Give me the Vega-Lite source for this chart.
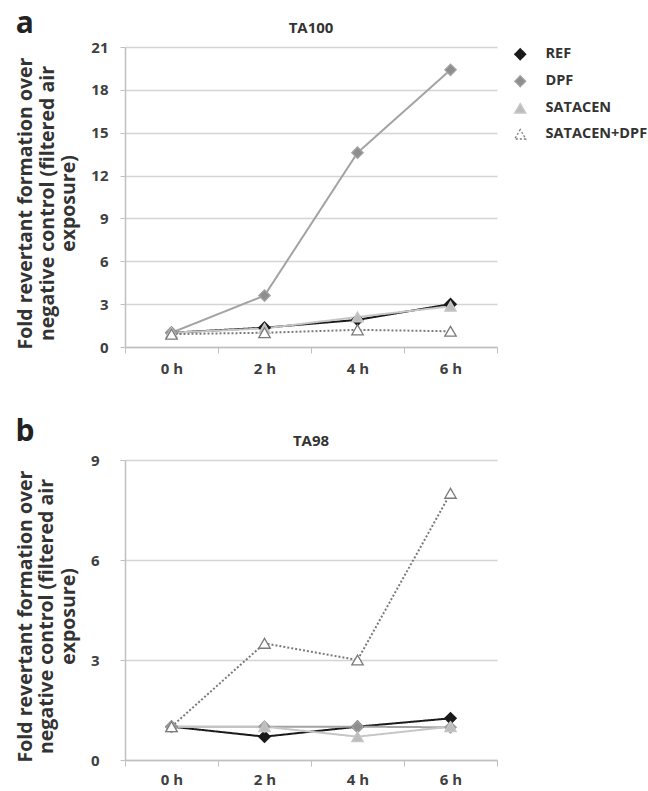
{
  "$schema": "https://vega.github.io/schema/vega-lite/v6.json",
  "background": "white",
  "padding": {"left": 15, "top": 9, "right": 5, "bottom": 0},
  "config": {
    "font": "Open Sans",
    "view": {"stroke": null},
    "axis": {"labelFont": "Open Sans", "titleFont": "Open Sans", "labelFontWeight": "bold", "labelColor": "#404040", "labelFontSize": 15, "domainColor": "#c0c0c0", "tickColor": "#c0c0c0", "gridColor": "#d4d4d4", "gridWidth": 1.5, "domainWidth": 1.5},
    "title": {"font": "Open Sans", "fontWeight": "bold", "color": "#333333"},
    "legend": {"labelFont": "Open Sans", "labelFontSize": 14.5, "labelFontWeight": "bold", "labelColor": "#333333", "rowPadding": 10, "symbolSize": 120, "symbolStrokeWidth": 1.3, "offset": 16, "labelOffset": 18, "padding": 0}
  },
  "datasets": {
    "d": [
      {"panel": "a", "time": "0 h", "series": "REF", "value": 1.0},
      {"panel": "a", "time": "2 h", "series": "REF", "value": 1.35},
      {"panel": "a", "time": "4 h", "series": "REF", "value": 1.9},
      {"panel": "a", "time": "6 h", "series": "REF", "value": 3.0},
      {"panel": "a", "time": "0 h", "series": "DPF", "value": 1.0},
      {"panel": "a", "time": "2 h", "series": "DPF", "value": 3.6},
      {"panel": "a", "time": "4 h", "series": "DPF", "value": 13.6},
      {"panel": "a", "time": "6 h", "series": "DPF", "value": 19.4},
      {"panel": "a", "time": "0 h", "series": "SATACEN", "value": 1.0},
      {"panel": "a", "time": "2 h", "series": "SATACEN", "value": 1.3},
      {"panel": "a", "time": "4 h", "series": "SATACEN", "value": 2.1},
      {"panel": "a", "time": "6 h", "series": "SATACEN", "value": 2.85},
      {"panel": "a", "time": "0 h", "series": "SATACEN+DPF", "value": 0.9},
      {"panel": "a", "time": "2 h", "series": "SATACEN+DPF", "value": 1.0},
      {"panel": "a", "time": "4 h", "series": "SATACEN+DPF", "value": 1.2},
      {"panel": "a", "time": "6 h", "series": "SATACEN+DPF", "value": 1.1},
      {"panel": "b", "time": "0 h", "series": "REF", "value": 1.0},
      {"panel": "b", "time": "2 h", "series": "REF", "value": 0.7},
      {"panel": "b", "time": "4 h", "series": "REF", "value": 1.0},
      {"panel": "b", "time": "6 h", "series": "REF", "value": 1.25},
      {"panel": "b", "time": "0 h", "series": "DPF", "value": 1.0},
      {"panel": "b", "time": "2 h", "series": "DPF", "value": 1.0},
      {"panel": "b", "time": "4 h", "series": "DPF", "value": 1.0},
      {"panel": "b", "time": "6 h", "series": "DPF", "value": 0.98},
      {"panel": "b", "time": "0 h", "series": "SATACEN", "value": 1.0},
      {"panel": "b", "time": "2 h", "series": "SATACEN", "value": 1.0},
      {"panel": "b", "time": "4 h", "series": "SATACEN", "value": 0.7},
      {"panel": "b", "time": "6 h", "series": "SATACEN", "value": 1.0},
      {"panel": "b", "time": "0 h", "series": "SATACEN+DPF", "value": 1.0},
      {"panel": "b", "time": "2 h", "series": "SATACEN+DPF", "value": 3.5},
      {"panel": "b", "time": "4 h", "series": "SATACEN+DPF", "value": 3.0},
      {"panel": "b", "time": "6 h", "series": "SATACEN+DPF", "value": 8.0}
    ]
  },
  "resolve": {"legend": {"stroke": "independent", "fill": "independent", "shape": "independent", "strokeDash": "independent"}, "scale": {"stroke": "independent", "fill": "independent", "shape": "independent", "strokeDash": "independent"}},
  "spacing": 41,
  "vconcat": [
    {
      "title": {"text": "a", "anchor": "start", "frame": "bounds", "fontSize": 30, "color": "#222222", "offset": -18},
      "resolve": {"legend": {"stroke": "independent", "fill": "independent", "shape": "independent", "strokeDash": "independent"}},
      "vconcat": [
        {
          "title": {"text": "TA100", "fontSize": 15, "offset": 4},
          "width": 372,
          "height": 300,
          "data": {"name": "d"},
          "transform": [{"filter": "datum.panel === 'a'"}],
          "encoding": {
            "x": {"field": "time", "type": "nominal", "sort": ["0 h", "2 h", "4 h", "6 h"], "scale": {"type": "band", "paddingInner": 0, "paddingOuter": 0}, "bandPosition": 0.5, "axis": {"title": null, "labelAngle": 0, "tickBand": "extent", "tickSize": 6, "labelPadding": 8, "grid": false}},
            "y": {"field": "value", "type": "quantitative", "scale": {"domain": [0, 21], "nice": false}, "axis": {"values": [0, 3, 6, 9, 12, 15, 18, 21], "tickSize": 5, "labelPadding": 12, "titleFontSize": 19.5, "titleColor": "#333333", "titleFontWeight": "bold", "titlePadding": 12, "titleLineHeight": 21.5, "titleY": 156, "title": ["Fold revertant formation over", "negative control (filtered air", "exposure)"]}}
          },
          "layer": [
            {
              "mark": {"type": "line", "strokeWidth": 2},
              "encoding": {
                "stroke": {"field": "series", "type": "nominal", "title": null, "scale": {"domain": ["REF", "DPF", "SATACEN", "SATACEN+DPF"], "range": ["#1a1a1a", "#a3a3a3", "#c6c6c6", "#7a7a7a"]}},
                "strokeDash": {"field": "series", "type": "nominal", "title": null, "scale": {"domain": ["REF", "DPF", "SATACEN", "SATACEN+DPF"], "range": [[1, 0], [1, 0], [1, 0], [2, 2]]}}
              }
            },
            {
              "mark": {"type": "point", "size": 130, "opacity": 1, "fillOpacity": 1, "strokeWidth": 1.3},
              "encoding": {
                "stroke": {"field": "series", "type": "nominal", "title": null, "scale": {"domain": ["REF", "DPF", "SATACEN", "SATACEN+DPF"], "range": ["#1a1a1a", "#a3a3a3", "#c6c6c6", "#7a7a7a"]}},
                "fill": {"field": "series", "type": "nominal", "title": null, "scale": {"domain": ["REF", "DPF", "SATACEN", "SATACEN+DPF"], "range": ["#1a1a1a", "#8e8e8e", "#bdbdbd", "#ffffff"]}},
                "shape": {"field": "series", "type": "nominal", "title": null, "scale": {"domain": ["REF", "DPF", "SATACEN", "SATACEN+DPF"], "range": ["diamond", "diamond", "triangle-up", "triangle-up"]}}
              }
            }
          ]
        }
      ]
    },
    {
      "title": {"text": "b", "anchor": "start", "frame": "bounds", "fontSize": 30, "color": "#222222", "offset": -13},
      "vconcat": [
        {
          "title": {"text": "TA98", "fontSize": 15, "offset": 4},
          "width": 372,
          "height": 300,
          "data": {"name": "d"},
          "transform": [{"filter": "datum.panel === 'b'"}],
          "encoding": {
            "x": {"field": "time", "type": "nominal", "sort": ["0 h", "2 h", "4 h", "6 h"], "scale": {"type": "band", "paddingInner": 0, "paddingOuter": 0}, "bandPosition": 0.5, "axis": {"title": null, "labelAngle": 0, "tickBand": "extent", "tickSize": 6, "labelPadding": 6, "grid": false}},
            "y": {"field": "value", "type": "quantitative", "scale": {"domain": [0, 9], "nice": false}, "axis": {"values": [0, 3, 6, 9], "tickSize": 5, "labelPadding": 21, "titleFontSize": 19.5, "titleColor": "#333333", "titleFontWeight": "bold", "titlePadding": 12, "titleLineHeight": 21.5, "titleY": 156, "title": ["Fold revertant formation over", "negative control (filtered air", "exposure)"]}}
          },
          "layer": [
            {
              "mark": {"type": "line", "strokeWidth": 2},
              "encoding": {
                "stroke": {"field": "series", "type": "nominal", "legend": null, "scale": {"domain": ["REF", "DPF", "SATACEN", "SATACEN+DPF"], "range": ["#1a1a1a", "#a3a3a3", "#c6c6c6", "#7a7a7a"]}},
                "strokeDash": {"field": "series", "type": "nominal", "legend": null, "scale": {"domain": ["REF", "DPF", "SATACEN", "SATACEN+DPF"], "range": [[1, 0], [1, 0], [1, 0], [2, 2]]}}
              }
            },
            {
              "mark": {"type": "point", "size": 130, "opacity": 1, "fillOpacity": 1, "strokeWidth": 1.3},
              "encoding": {
                "stroke": {"field": "series", "type": "nominal", "legend": null, "scale": {"domain": ["REF", "DPF", "SATACEN", "SATACEN+DPF"], "range": ["#1a1a1a", "#a3a3a3", "#c6c6c6", "#7a7a7a"]}},
                "fill": {"field": "series", "type": "nominal", "legend": null, "scale": {"domain": ["REF", "DPF", "SATACEN", "SATACEN+DPF"], "range": ["#1a1a1a", "#8e8e8e", "#bdbdbd", "#ffffff"]}},
                "shape": {"field": "series", "type": "nominal", "legend": null, "scale": {"domain": ["REF", "DPF", "SATACEN", "SATACEN+DPF"], "range": ["diamond", "diamond", "triangle-up", "triangle-up"]}}
              }
            }
          ]
        }
      ]
    }
  ]
}
